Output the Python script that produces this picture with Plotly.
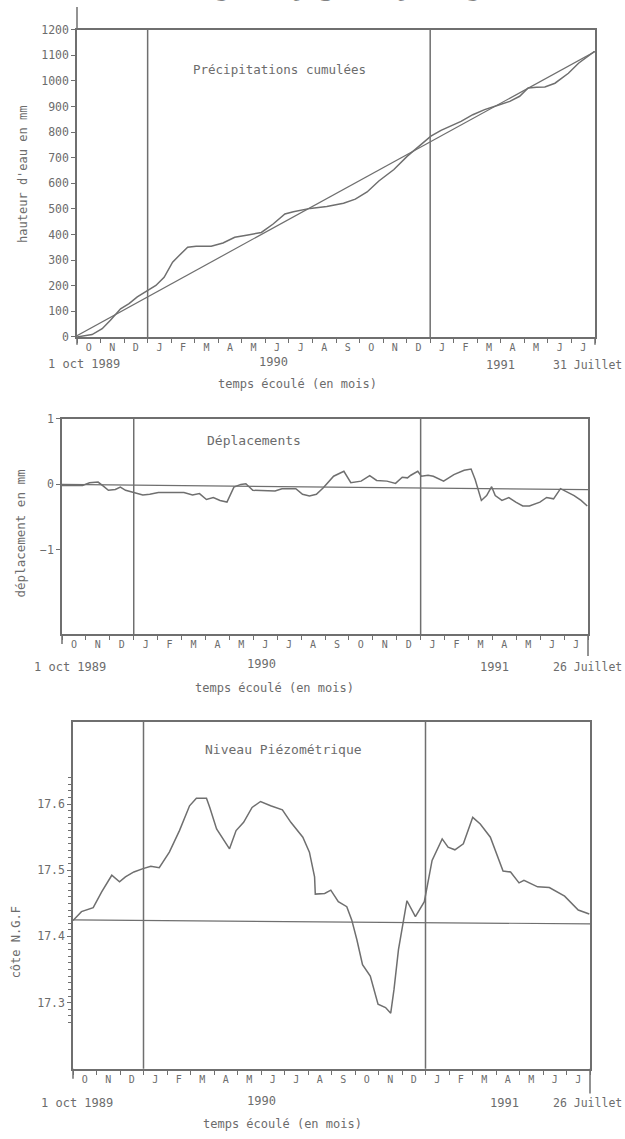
import plotly.graph_objects as go

# ---------------- data ----------------
months = ["O", "N", "D", "J", "F", "M", "A", "M", "J", "J", "A",
          "S", "O", "N", "D", "J", "F", "M", "A", "M", "J", "J"]
year_starts = [3, 15]  # 1 jan 1990, 1 jan 1991 (months after 1 oct 1989)

# Précipitations cumulées (mm) vs months elapsed
precip_t = [0, 0.64, 1.07, 1.42, 1.85, 2.21, 2.56, 2.78, 3.35, 3.70, 4.06, 4.34,
            4.70, 5.06, 5.70, 6.20, 6.70, 7.26, 7.83, 8.33, 8.83, 9.19, 9.90,
            10.61, 11.32, 11.82, 12.32, 12.82, 13.46, 14.03, 14.60, 15.03, 15.46,
            15.88, 16.31, 16.81, 17.31, 17.88, 18.38, 18.80, 19.16, 19.52, 19.87,
            20.30, 20.87, 21.30, 21.98]
precip_v = [0, 9, 32, 65, 110, 130, 156, 168, 201, 233, 292, 318,
            350, 354, 354, 367, 389, 398, 408, 441, 480, 489, 502,
            509, 522, 538, 566, 609, 654, 706, 752, 784, 807,
            823, 842, 868, 888, 905, 920, 940, 972, 975, 976,
            991, 1030, 1069, 1115]
precip_trend_t = [0, 22]
precip_trend_v = [5, 1115]

# Déplacements (mm)
depl_t = [0, 0.86, 1.15, 1.51, 1.73, 1.94, 2.23, 2.44, 2.66, 2.95, 3.38, 3.67,
          4.03, 5.10, 5.46, 5.75, 6.04, 6.33, 6.61, 6.90, 7.19, 7.48, 7.69,
          7.98, 8.91, 9.20, 9.78, 10.06, 10.35, 10.64, 10.93, 11.36, 11.79,
          12.08, 12.51, 12.87, 13.16, 13.59, 13.95, 14.23, 14.45, 14.59, 14.88,
          15.03, 15.31, 15.53, 15.96, 16.39, 16.82, 17.11, 17.28, 17.54, 17.76,
          17.97, 18.12, 18.40, 18.69, 18.98, 19.27, 19.55, 19.99, 20.27, 20.56,
          20.85, 21.14, 21.42, 21.71, 21.97]
depl_v = [-0.015, -0.015, 0.026, 0.036, -0.026, -0.09, -0.077, -0.041, -0.09, -0.115, -0.16, -0.15,
          -0.125, -0.125, -0.16, -0.14, -0.23, -0.2, -0.245, -0.27, -0.041, 0.0, 0.01,
          -0.09, -0.1, -0.065, -0.065, -0.15, -0.175, -0.15, -0.05, 0.125, 0.2,
          0.026, 0.05, 0.135, 0.06, 0.05, 0.015, 0.11, 0.1, 0.14, 0.2,
          0.125, 0.14, 0.125, 0.05, 0.15, 0.215, 0.235, 0.075, -0.245, -0.17,
          -0.035, -0.17, -0.245, -0.2, -0.27, -0.33, -0.33, -0.27, -0.2, -0.22,
          -0.065, -0.125, -0.17, -0.245, -0.33]
depl_ref_t = [0, 22]
depl_ref_v = [0, -0.08]

# Niveau piézométrique (cote N.G.F)
piezo_t = [0, 0.36, 0.86, 1.22, 1.65, 1.98, 2.23, 2.59, 2.98, 3.31, 3.67, 4.10,
           4.53, 4.96, 5.25, 5.68, 5.82, 6.11, 6.66, 6.94, 7.26, 7.62, 7.98,
           8.41, 8.91, 9.27, 9.78, 10.06, 10.28, 10.31, 10.71, 10.97, 11.29,
           11.65, 11.86, 12.08, 12.32, 12.65, 12.98, 13.30, 13.52, 13.66, 13.85,
           14.21, 14.57, 14.95, 15.28, 15.71, 15.96, 16.25, 16.61, 17.01, 17.33,
           17.76, 18.30, 18.62, 18.98, 19.19, 19.77, 20.27, 20.92, 21.50, 21.97]
piezo_v = [17.424, 17.4375, 17.4435, 17.4675, 17.4925, 17.4825, 17.49, 17.4975, 17.5025, 17.506, 17.504, 17.5275,
           17.56, 17.5975, 17.609, 17.609, 17.595, 17.5625, 17.5325, 17.56, 17.5725, 17.595, 17.604,
           17.5975, 17.5915, 17.5725, 17.55, 17.5275, 17.49, 17.464, 17.465, 17.47, 17.4525,
           17.445, 17.425, 17.395, 17.3575, 17.34, 17.2975, 17.2925, 17.284, 17.32, 17.38,
           17.454, 17.43, 17.4525, 17.515, 17.5475, 17.535, 17.531, 17.54, 17.58, 17.57,
           17.55, 17.499, 17.4975, 17.481, 17.485, 17.475, 17.474, 17.461, 17.44, 17.434]
piezo_ref_t = [0, 22]
piezo_ref_v = [17.425, 17.419]

y1_ticks = [0, 100, 200, 300, 400, 500, 600, 700, 800, 900, 1000, 1100, 1200]
y2_ticks = [1, 0, -1]
y3_ticks = [17.3, 17.4, 17.5, 17.6]

# ---------------- styling ----------------
W, H = 625, 1139
LC = "#6f6f6f"
TC = "#6c6c6c"
FONT = "DejaVu Sans Mono"


def px(x):
    return x / W


def py(y):
    return 1 - y / H


fig = go.Figure()

line_style = dict(color=LC, width=1.5)
fig.add_trace(go.Scatter(x=precip_t, y=precip_v, mode="lines", line=line_style,
                         xaxis="x", yaxis="y", showlegend=False))
fig.add_trace(go.Scatter(x=precip_trend_t, y=precip_trend_v, mode="lines",
                         line=dict(color=LC, width=1.2), xaxis="x", yaxis="y", showlegend=False))
fig.add_trace(go.Scatter(x=depl_t, y=depl_v, mode="lines", line=line_style,
                         xaxis="x2", yaxis="y2", showlegend=False))
fig.add_trace(go.Scatter(x=depl_ref_t, y=depl_ref_v, mode="lines",
                         line=dict(color=LC, width=1.2), xaxis="x2", yaxis="y2", showlegend=False))
fig.add_trace(go.Scatter(x=piezo_t, y=piezo_v, mode="lines", line=line_style,
                         xaxis="x3", yaxis="y3", showlegend=False))
fig.add_trace(go.Scatter(x=piezo_ref_t, y=piezo_ref_v, mode="lines",
                         line=dict(color=LC, width=1.2), xaxis="x3", yaxis="y3", showlegend=False))

month_mid = [i + 0.5 for i in range(len(months))]
month_edges = list(range(len(months) + 1))


def xaxis(domain, anchor):
    return dict(
        domain=domain, anchor=anchor, range=[0, 22], showgrid=False, zeroline=False,
        showline=True, linecolor=LC, linewidth=1.5, mirror=True,
        tickmode="array", tickvals=month_mid, ticktext=months, ticks="",
        tickfont=dict(family=FONT, size=10, color=TC),
        minor=dict(tickmode="array", tickvals=month_edges, ticks="outside",
                   ticklen=4, tickwidth=1, tickcolor=LC, showgrid=False),
        fixedrange=True,
    )


def yaxis(domain, anchor, rng, ticks, fmt=None):
    d = dict(
        domain=domain, anchor=anchor, range=rng, showgrid=False, zeroline=False,
        showline=True, linecolor=LC, linewidth=1.5, mirror=True,
        tickmode="array", tickvals=ticks, ticks="outside", ticklen=4, tickcolor=LC,
        tickfont=dict(family=FONT, size=11.5, color=TC), fixedrange=True,
    )
    if fmt:
        d["tickformat"] = fmt
    return d


x1d = [px(77), px(595)]
y1d = [py(334), py(23)]
x2d = [px(62), px(588)]
y2d = [py(635), py(417)]
x3d = [px(73), px(590)]
y3d = [py(1075), py(724)]

y3 = yaxis(y3d, "x3", [17.2, 17.724], y3_ticks, ".1f")
y3["minor"] = dict(tickmode="array",
                   tickvals=[round(17.27 + 0.01 * i, 2) for i in range(38)],
                   ticks="outside", ticklen=3, tickwidth=1, tickcolor=LC, showgrid=False)

fig.update_layout(
    width=W, height=H, margin=dict(l=0, r=0, t=0, b=0),
    paper_bgcolor="white", plot_bgcolor="white",
    xaxis=xaxis(x1d, "y"), yaxis=yaxis(y1d, "x", [0, 1200], y1_ticks),
    xaxis2=xaxis(x2d, "y2"), yaxis2=yaxis(y2d, "x2", [-2.286, 1], y2_ticks),
    xaxis3=xaxis(x3d, "y3"), yaxis3=y3,
)

# year boundary vertical lines
shapes = []
for xa, ya in (("x", "y"), ("x2", "y2"), ("x3", "y3")):
    for ys in year_starts:
        shapes.append(dict(type="line", xref=xa, yref=ya + " domain", x0=ys, x1=ys,
                           y0=0, y1=1, line=dict(color=LC, width=1.5)))


# small axis-line extensions drawn on the original plotter sheet
def ext(x, y0, y1):
    shapes.append(dict(type="line", xref="paper", yref="paper", x0=px(x), x1=px(x),
                       y0=py(y0), y1=py(y1), line=dict(color=LC, width=1.5)))


ext(77, 0, 23)
ext(77, 334, 342)
ext(595, 334, 342)
ext(62, 635, 645)
ext(588, 635, 657)
ext(73, 1075, 1085)
ext(590, 1075, 1100)
fig.update_layout(shapes=shapes)

ann = []


def text(x, y, s, size=12, angle=0, color=TC, family=FONT, xanchor="center"):
    ann.append(dict(x=px(x), y=py(y), xref="paper", yref="paper", text=s, showarrow=False,
                    xanchor=xanchor, yanchor="middle", textangle=angle,
                    font=dict(family=family, size=size, color=color)))


# partially visible heading at the very top of the sheet
ann.append(dict(x=px(340), y=py(4), xref="paper", yref="paper", text="<b>Le Mas Martel</b>",
                showarrow=False, xanchor="center", yanchor="bottom",
                font=dict(family="DejaVu Sans", size=40, color="#222222")))

# panel 1
text(279, 63, "Précipitations cumulées", 12.5)
text(23, 170, "hauteur d'eau en mm", 12, -90)
text(84, 361, "1 oct 1989", 12)
text(273, 359, "1990", 12)
text(500, 362, "1991", 12)
text(624, 362, "31 Juillet", 11.5, xanchor="right")
text(297, 382, "temps écoulé (en mois)", 12)

# panel 2
text(254, 439, "Déplacements", 13)
text(20, 533, "déplacement en mm", 12.5, -90)
text(70, 668, "1 oct 1989", 12)
text(261, 665, "1990", 12)
text(494, 668, "1991", 12)
text(624, 668, "26 Juillet", 11.5, xanchor="right")
text(274, 689, "temps écoulé (en mois)", 12)

# panel 3
text(283, 752, "Niveau Piézométrique", 13)
text(16, 947, "côte N.G.F", 12, -90)
text(77, 1110, "1 oct 1989", 12)
text(261, 1108, "1990", 12)
text(504, 1110, "1991", 12)
text(624, 1110, "26 Juillet", 11.5, xanchor="right")
text(282, 1131, "temps écoulé (en mois)", 12)

fig.update_layout(annotations=ann)

fig.write_html(
    "out.html",
    config={"displayModeBar": False},
    post_script="document.body.style.margin='0';document.body.style.overflow='hidden';",
)
